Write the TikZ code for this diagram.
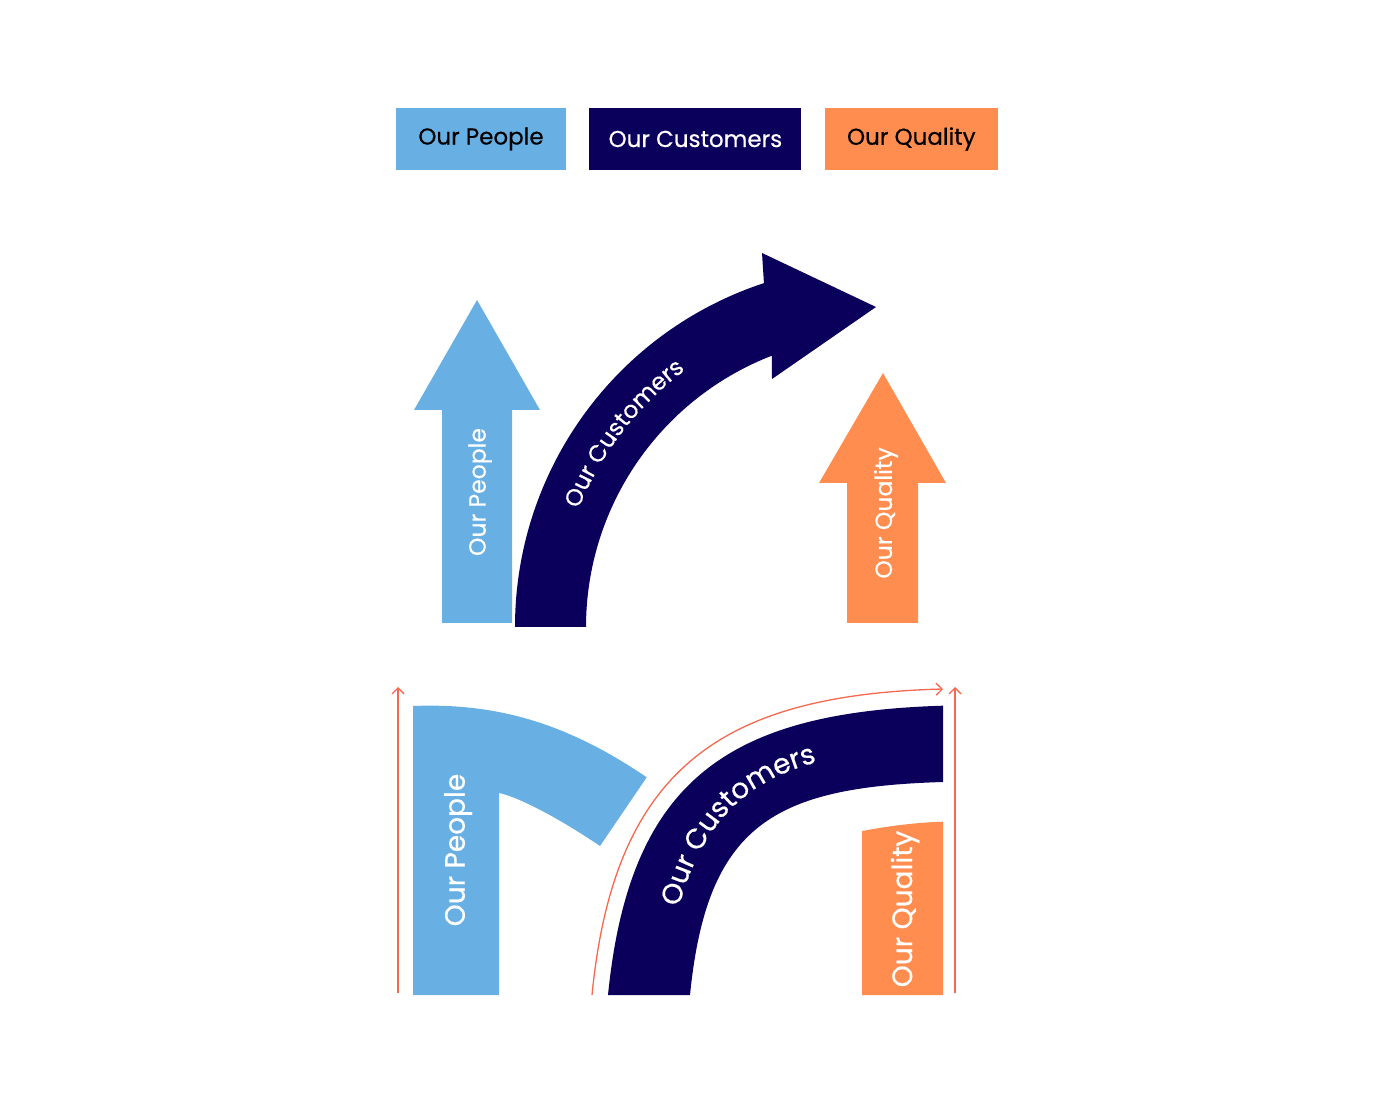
\documentclass[tikz,border=0pt]{standalone}
\usepackage{fontspec}
\setmainfont{Poppins}[FakeBold=0.5]
\usetikzlibrary{positioning,arrows.meta,decorations.text}
\definecolor{peopleblue}{HTML}{68AFE3}
\definecolor{custnavy}{HTML}{0A005C}
\definecolor{qualorange}{HTML}{FF8D50}
\definecolor{guidered}{HTML}{F4694F}
\newcommand{\hdfont}{\fontsize{23}{27}\selectfont}
\newcommand{\upfont}{\fontsize{23.5}{27}\selectfont}
\newcommand{\lowfont}{\fontsize{28}{32}\selectfont}
\tikzset{
  legendbox/.style={minimum width=#1, minimum height=62pt, inner sep=0pt, font=\hdfont},
  shapelabel/.style={text=white, rotate=90, inner sep=0pt},
  guide/.style={draw=guidered, line width=1.3pt, -{Straight Barb[length=6pt,width=12pt]}},
}
\begin{document}
\begin{tikzpicture}[x=1pt,y=1pt]
  \useasboundingbox (0,0) rectangle (1390,1104);
  % legend
  \node[legendbox=170pt, fill=peopleblue] (legpeople) at (481,965) {Our People};
  \node[legendbox=212pt, fill=custnavy, text=white, right=23pt of legpeople] (legcust) {Our Customers};
  \node[legendbox=173pt, fill=qualorange, right=23pt of legcust] (legqual) {Our Quality};
  % upper arrows
  \fill[peopleblue] (442,481) -- (442,694) -- (414,694) -- (477,804) -- (540,694) -- (512,694) -- (512,481) -- cycle;
  \fill[custnavy] (515,477) arc[start angle=180, end angle=108.2, radius=362] -- (762,851) -- (876,797)
    -- (772,725) -- (771.8,748.3) arc[start angle=111.2, end angle=180, radius=291] -- cycle;
  \fill[qualorange] (847,481) -- (847,621) -- (819,621) -- (883,731) -- (946,621) -- (918,621) -- (918,481) -- cycle;
  \node[shapelabel, font=\upfont] (uppeople) at (480,612) {Our People};
  \node[shapelabel, font=\upfont] (upqual) at (886,591) {Our Quality};
  \path[decorate, decoration={text along path, text={|\upfont|Our Customers}, text color=white, text align=center}]
    (557.3,504.9) arc[start angle=175, end angle=110, radius=320];
  % lower bands
  \fill[peopleblue] (413,109) -- (413,398) .. controls (498.1,401.4) and (568.3,380) .. (646.7,326.7)
    -- (600,258) .. controls (559,285.8) and (518.6,307) .. (499,311) -- (499,109) -- cycle;
  \fill[custnavy] (608,109) .. controls (629.5,324) and (728,391.8) .. (943,398.3)
    -- (943,322) .. controls (773,316.9) and (707,279) .. (690,109) -- cycle;
  \fill[qualorange] (862,109) -- (862,273) .. controls (889,278) and (916,281.5) .. (943,282.3) -- (943,109) -- cycle;
  \node[shapelabel, font=\lowfont] (lowpeople) at (458,254) {Our People};
  \node[shapelabel, font=\lowfont] (lowqual) at (905,195) {Our Quality};
  \path[decorate, decoration={text along path, text={|\lowfont|Our Customers}, text color=white, text align=center}]
    (664,109) .. controls (681,292) and (752,347) .. (905,354);
  % guides
  \draw[guide] (398,111) -- (398,417);
  \draw[guide] (955,111) -- (955,417);
  \draw[guide] (592,109) .. controls (614,334) and (720,409) .. (943,415);
\end{tikzpicture}
\end{document}
